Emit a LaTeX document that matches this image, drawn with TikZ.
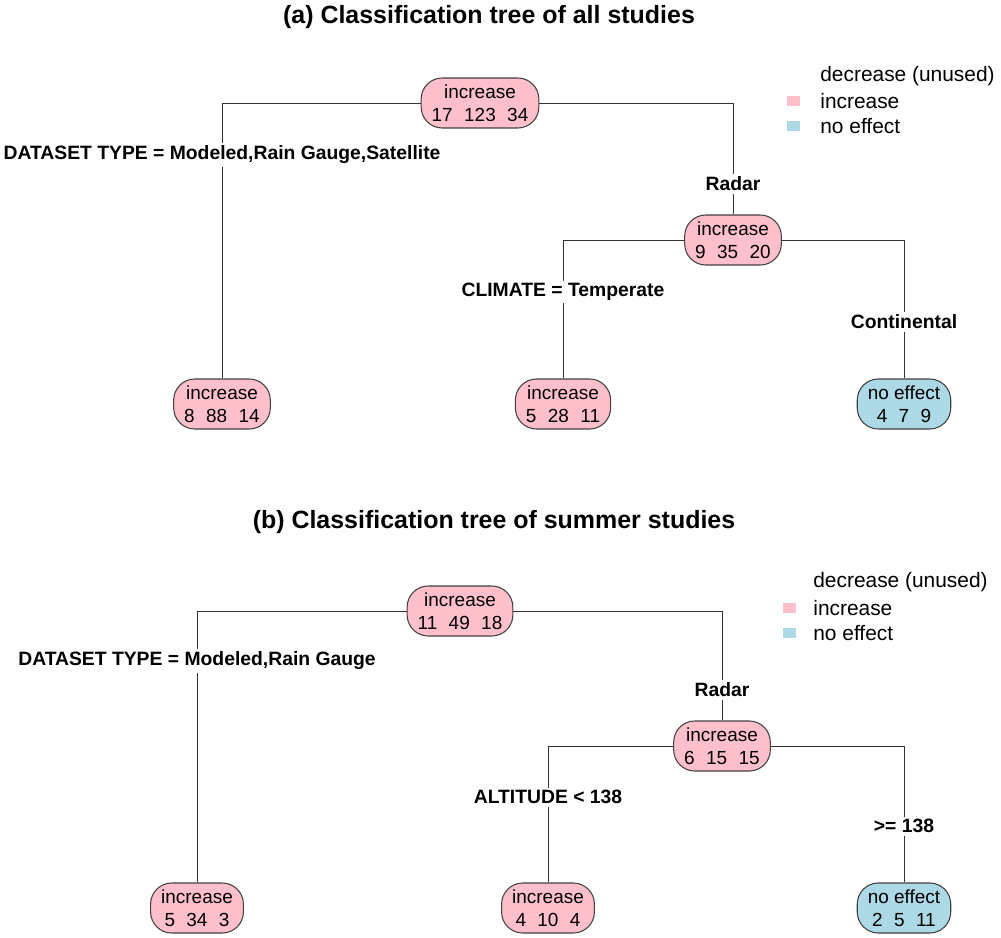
\documentclass[tikz,border=0pt]{standalone}
\usepackage{fontspec}
\setmainfont{Liberation Sans}
\usepackage{xcolor}
\usetikzlibrary{positioning}
\definecolor{incpink}{HTML}{FFC0CB}
\definecolor{noeffblue}{HTML}{ADD8E6}

\begin{document}
\begin{tikzpicture}[
			x=0.02cm, y=-0.02cm,
			every node/.style={font=\fontsize{10.8}{12.8}\selectfont},
			treenode/.style={draw=black!75, line width=0.6pt, rounded corners=12pt, align=center, minimum height=1cm, inner xsep=6pt, inner ysep=2pt},
			incnode/.style={treenode, fill=incpink},
			noeffnode/.style={treenode, fill=noeffblue},
			split/.style={fill=white, inner sep=1.5pt, font=\bfseries\fontsize{11}{13}\selectfont},
			title/.style={font=\bfseries\fontsize{14.2}{17}\selectfont},
			legtext/.style={anchor=west, inner sep=0pt, font=\fontsize{11.9}{14}\selectfont},
			legbox/.style={minimum width=0.26cm, minimum height=0.2cm, inner sep=0pt},
			branch/.style={draw=black!80, line width=0.5pt}
			]
			\useasboundingbox (0,0) rectangle (1001,937);
			
			% (a) all studies
			\node (titleA) [title] at (489,17) {(a) Classification tree of all studies};
			\node (rootA) [incnode] at (480,103) {increase\\17\hspace{0.6em}123\hspace{0.6em}34};
			\node (radarA) [incnode] at (733,240) {increase\\9\hspace{0.6em}35\hspace{0.6em}20};
			\node (leafA1) [incnode] at (222,404) {increase\\8\hspace{0.6em}88\hspace{0.6em}14};
			\node (leafA2) [incnode] at (563,404) {increase\\5\hspace{0.6em}28\hspace{0.6em}11};
			\node (leafA3) [noeffnode] at (904,404) {no effect\\4\hspace{0.6em}7\hspace{0.6em}9};
			
			\draw [branch] (rootA.west) -| (leafA1.north);
			\draw [branch] (rootA.east) -| (radarA.north);
			\draw [branch] (radarA.west) -| (leafA2.north);
			\draw [branch] (radarA.east) -| (leafA3.north);
			
			\node (splitA1) [split] at (222,155) {DATASET TYPE = Modeled,Rain Gauge,Satellite};
			\node (splitA2) [split] at (733,184) {Radar};
			\node (splitA3) [split] at (563,292) {CLIMATE = Temperate};
			\node (splitA4) [split] at (904,322) {Continental};
			
			% legend (a)
			\node (legA1) [legtext] at (820,76) {decrease (unused)};
			\node (legA2) [legtext] at (820,101) {increase};
			\node (legA3) [legtext] at (820,126) {no effect};
			\node (boxA2) [legbox, fill=incpink] at (793,101) {};
			\node (boxA3) [legbox, fill=noeffblue] at (793,126) {};
			
			% (b) summer studies
			\node (titleB) [title] at (494,522) {(b) Classification tree of summer studies};
			\node (rootB) [incnode] at (460,611) {increase\\11\hspace{0.6em}49\hspace{0.6em}18};
			\node (radarB) [incnode] at (722,746) {increase\\6\hspace{0.6em}15\hspace{0.6em}15};
			\node (leafB1) [incnode] at (197,908) {increase\\5\hspace{0.6em}34\hspace{0.6em}3};
			\node (leafB2) [incnode] at (548,908) {increase\\4\hspace{0.6em}10\hspace{0.6em}4};
			\node (leafB3) [noeffnode] at (904,908) {no effect\\2\hspace{0.6em}5\hspace{0.6em}11};
			
			\draw [branch] (rootB.west) -| (leafB1.north);
			\draw [branch] (rootB.east) -| (radarB.north);
			\draw [branch] (radarB.west) -| (leafB2.north);
			\draw [branch] (radarB.east) -| (leafB3.north);
			
			\node (splitB1) [split] at (197,661) {DATASET TYPE = Modeled,Rain Gauge};
			\node (splitB2) [split] at (722,690) {Radar};
			\node (splitB3) [split] at (548,797) {ALTITUDE < 138};
			\node (splitB4) [split] at (904,826) {>= 138};
			
			% legend (b)
			\node (legB1) [legtext] at (813,582) {decrease (unused)};
			\node (legB2) [legtext] at (813,608) {increase};
			\node (legB3) [legtext] at (813,633) {no effect};
			\node (boxB2) [legbox, fill=incpink] at (789,608) {};
			\node (boxB3) [legbox, fill=noeffblue] at (789,633) {};
			
		\end{tikzpicture}
\end{document}
